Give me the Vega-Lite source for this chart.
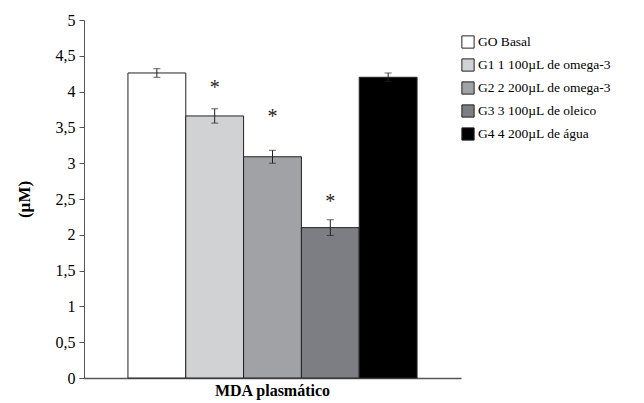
{
  "$schema": "https://vega.github.io/schema/vega-lite/v6.json",
  "autosize": "none",
  "width": 377,
  "height": 358,
  "padding": {"left": 84, "top": 20, "right": 183, "bottom": 25},
  "background": "white",
  "config": {
    "font": "Liberation Serif",
    "view": {"stroke": null}
  },
  "resolve": {"axis": {"y": "independent"}},
  "data": {
    "values": [
      {"cat": "MDA plasmático", "group": "GO Basal", "value": 4.26, "err": 0.06, "star": ""},
      {"cat": "MDA plasmático", "group": "G1 1 100µL de omega-3", "value": 3.66, "err": 0.1, "star": "*", "starY": 4.1},
      {"cat": "MDA plasmático", "group": "G2 2 200µL de omega-3", "value": 3.09, "err": 0.09, "star": "*", "starY": 3.7},
      {"cat": "MDA plasmático", "group": "G3 3 100µL de oleico", "value": 2.1, "err": 0.11, "star": "*", "starY": 2.52},
      {"cat": "MDA plasmático", "group": "G4 4 200µL de água", "value": 4.2, "err": 0.06, "star": ""}
    ]
  },
  "transform": [
    {"calculate": "datum.value - datum.err", "as": "lo"},
    {"calculate": "datum.value + datum.err", "as": "hi"}
  ],
  "encoding": {
    "x": {
      "field": "cat", "type": "nominal", "title": null,
      "scale": {"paddingInner": 0, "paddingOuter": 0.152},
      "axis": {"labelAngle": 0, "labelFont": "Liberation Serif", "labelFontSize": 16, "labelFontWeight": "bold", "labelColor": "black", "ticks": false, "labelPadding": 4, "domainColor": "#555", "domainWidth": 1.5}
    },
    "xOffset": {
      "field": "group", "type": "nominal",
      "sort": ["GO Basal", "G1 1 100µL de omega-3", "G2 2 200µL de omega-3", "G3 3 100µL de oleico", "G4 4 200µL de água"],
      "scale": {"paddingInner": 0, "paddingOuter": 0}
    }
  },
  "layer": [
    {
      "mark": {"type": "bar", "stroke": "#222", "strokeWidth": 1},
      "encoding": {
        "y": {
          "field": "value", "type": "quantitative",
          "scale": {"domain": [0, 5], "nice": false},
          "title": "(µM)",
          "axis": {
            "values": [0, 0.5, 1, 1.5, 2, 2.5, 3, 3.5, 4, 4.5, 5],
            "labelExpr": "replace(format(datum.value, '.1~f'), '.', ',')",
            "grid": false,
            "labelFont": "Liberation Serif", "labelFontSize": 16, "labelColor": "black",
            "titleFont": "Liberation Serif", "titleFontSize": 17, "titleFontWeight": "bold", "titleColor": "black",
            "titlePadding": 22,
            "tickColor": "#555", "domainColor": "#555", "tickSize": 5, "labelPadding": 4
          }
        },
        "fill": {
          "field": "group", "type": "nominal",
          "sort": ["GO Basal", "G1 1 100µL de omega-3", "G2 2 200µL de omega-3", "G3 3 100µL de oleico", "G4 4 200µL de água"],
          "scale": {"range": ["#ffffff", "#d1d2d4", "#a0a2a6", "#7d7e83", "#000000"]},
          "legend": {
            "title": null, "orient": "none", "legendX": 377, "legendY": 15,
            "symbolType": "square", "symbolSize": 150, "symbolStrokeColor": "#222", "symbolStrokeWidth": 1,
            "labelFont": "Liberation Serif", "labelFontSize": 13.5, "labelColor": "black",
            "rowPadding": 5, "labelOffset": 3
          }
        }
      }
    },
    {
      "mark": {"type": "rule", "color": "#222", "strokeWidth": 1},
      "encoding": {"y": {"field": "lo", "type": "quantitative", "axis": null}, "y2": {"field": "hi"}}
    },
    {
      "mark": {"type": "tick", "color": "#222", "size": 7, "thickness": 1},
      "encoding": {"y": {"field": "lo", "type": "quantitative", "axis": null}}
    },
    {
      "mark": {"type": "tick", "color": "#222", "size": 7, "thickness": 1},
      "encoding": {"y": {"field": "hi", "type": "quantitative", "axis": null}}
    },
    {
      "transform": [{"filter": "datum.star != ''"}],
      "mark": {"type": "text", "font": "Liberation Serif", "fontSize": 20, "color": "#222", "baseline": "middle", "dy": 4},
      "encoding": {"y": {"field": "starY", "type": "quantitative", "axis": null}, "text": {"field": "star"}}
    }
  ]
}
